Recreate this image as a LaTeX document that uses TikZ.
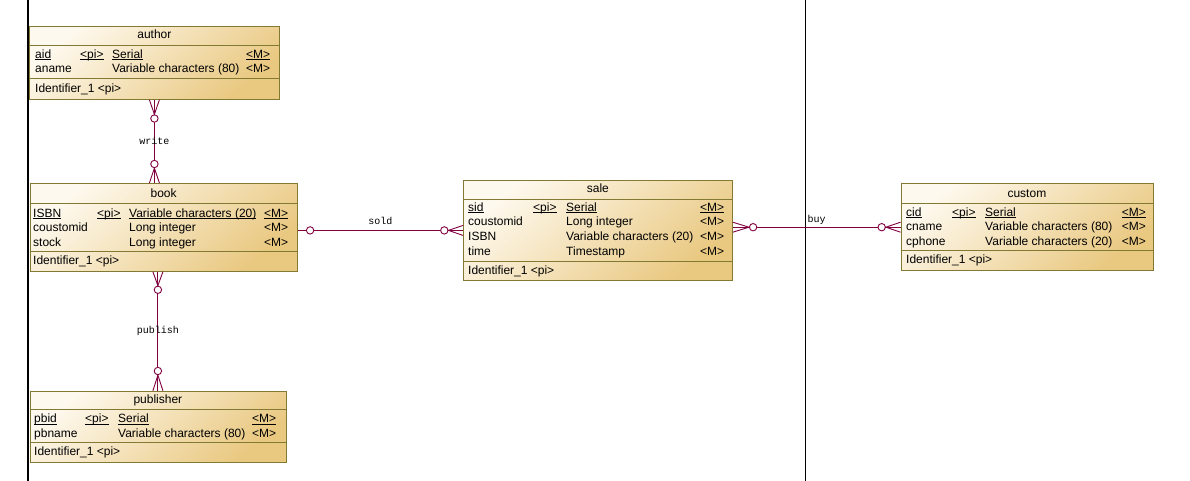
\documentclass[tikz,border=0pt]{standalone}
\usepackage{fontspec}
\setmainfont{Liberation Sans}
\newfontfamily\relfont{Liberation Mono}
\usetikzlibrary{calc,shapes}

\definecolor{entlight}{RGB}{254,249,238}
\definecolor{entdark}{RGB}{233,200,128}
\definecolor{entline}{RGB}{130,122,50}
\definecolor{relline}{RGB}{128,0,64}

% key underline at a fixed depth
\newcommand{\keyul}[1]{\setbox0\hbox{#1}\rlap{\rule[-1.6pt]{\wd0}{0.8pt}}#1}

\begin{document}
\begin{tikzpicture}
[x=1pt,y=-1pt]
\tikzset{
	entity/.style = {rectangle, draw=entline, line width=0.8, top color=entlight, bottom color=entdark, shading angle=40, anchor=north west, inner sep=0},
	enttitle/.style = {anchor=base, inner sep=0, font=\fontsize{12}{14.6}\selectfont},
	attr/.style = {anchor=north west, yshift=10.22pt, inner sep=0, align=left, font=\fontsize{12}{14.6}\selectfont},
	sep/.style = {draw=entline, line width=0.8},
	rel/.style = {draw=relline, line width=0.9},
	card/.style = {circle, draw=relline, line width=0.9, fill=white, inner sep=0, minimum size=7.4},
	rname/.style = {font=\relfont\fontsize{10}{12}\selectfont, inner sep=0}
}
\useasboundingbox (0,0) rectangle (1190,481);

\draw[line width=1.2] (28,0) -- (28,481);
\draw[line width=0.9] (805,0) -- (805,481);

% author
\node[entity, minimum width=250, minimum height=73] (author) at (29,26) {};
\draw[sep] ($(author.north west)+(0,19.5)$) -- ($(author.north east)+(0,19.5)$);
\draw[sep] ($(author.north west)+(0,52)$) -- ($(author.north east)+(0,52)$);
\node[enttitle] (author-t) at ($(author.north)+(0,13)$) {author};
\node[attr] (author-n) at (35,58) {\strut\keyul{aid}\\aname};
\node[attr] (author-k) at (80,58) {\strut\keyul{<pi>}};
\node[attr] (author-d) at (112,58) {\strut\keyul{Serial}\\Variable characters (80)};
\node[attr] (author-m) at (246,58) {\strut\keyul{<M>}\\<M>};
\node[attr] (author-i) at (35,92) {\strut Identifier\_1 <pi>};

% book
\node[entity, minimum width=267.5, minimum height=88] (book) at (29.5,183) {};
\draw[sep] ($(book.north west)+(0,20)$) -- ($(book.north east)+(0,20)$);
\draw[sep] ($(book.north west)+(0,68)$) -- ($(book.north east)+(0,68)$);
\node[enttitle] (book-t) at ($(book.north)+(0,14.5)$) {book};
\node[attr] (book-n) at (33,217) {\strut\keyul{ISBN}\\coustomid\\stock};
\node[attr] (book-k) at (97,217) {\strut\keyul{<pi>}};
\node[attr] (book-d) at (129,217) {\strut\keyul{Variable characters (20)}\\Long integer\\Long integer};
\node[attr] (book-m) at (264,217) {\strut\keyul{<M>}\\<M>\\<M>};
\node[attr] (book-i) at (33,264) {\strut Identifier\_1 <pi>};

% publisher
\node[entity, minimum width=256, minimum height=71] (publisher) at (29.5,390.7) {};
\draw[sep] ($(publisher.north west)+(0,18.3)$) -- ($(publisher.north east)+(0,18.3)$);
\draw[sep] ($(publisher.north west)+(0,52)$) -- ($(publisher.north east)+(0,52)$);
\node[enttitle] (publisher-t) at ($(publisher.north)+(0,12.5)$) {publisher};
\node[attr] (publisher-n) at (34,422.7) {\strut\keyul{pbid}\\pbname};
\node[attr] (publisher-k) at (85,422.7) {\strut\keyul{<pi>}};
\node[attr] (publisher-d) at (118,422.7) {\strut\keyul{Serial}\\Variable characters (80)};
\node[attr] (publisher-m) at (252,422.7) {\strut\keyul{<M>}\\<M>};
\node[attr] (publisher-i) at (34,455.5) {\strut Identifier\_1 <pi>};

% sale
\node[entity, minimum width=269, minimum height=100] (sale) at (463,180) {};
\draw[sep] ($(sale.north west)+(0,19)$) -- ($(sale.north east)+(0,19)$);
\draw[sep] ($(sale.north west)+(0,81)$) -- ($(sale.north east)+(0,81)$);
\node[enttitle] (sale-t) at ($(sale.north)+(0,12.5)$) {sale};
\node[attr] (sale-n) at (468,211) {\strut\keyul{sid}\\coustomid\\ISBN\\time};
\node[attr] (sale-k) at (533,211) {\strut\keyul{<pi>}};
\node[attr] (sale-d) at (566,211) {\strut\keyul{Serial}\\Long integer\\Variable characters (20)\\Timestamp};
\node[attr] (sale-m) at (700,211) {\strut\keyul{<M>}\\<M>\\<M>\\<M>};
\node[attr] (sale-i) at (468,274) {\strut Identifier\_1 <pi>};

% custom
\node[entity, minimum width=252, minimum height=87] (custom) at (900.5,183.3) {};
\draw[sep] ($(custom.north west)+(0,20)$) -- ($(custom.north east)+(0,20)$);
\draw[sep] ($(custom.north west)+(0,67.4)$) -- ($(custom.north east)+(0,67.4)$);
\node[enttitle] (custom-t) at ($(custom.north)+(0,14)$) {custom};
\node[attr] (custom-n) at (906,216) {\strut\keyul{cid}\\cname\\cphone};
\node[attr] (custom-k) at (952,216) {\strut\keyul{<pi>}};
\node[attr] (custom-d) at (985,216) {\strut\keyul{Serial}\\Variable characters (80)\\Variable characters (20)};
\node[attr] (custom-m) at (1121.7,216) {\strut\keyul{<M>}\\<M>\\<M>};
\node[attr] (custom-i) at (906,263.3) {\strut Identifier\_1 <pi>};

% write
\coordinate (write-b) at (author.south |- book.north);
\draw[rel] (author.south) -- (write-b) node[midway, rname] (write) {write};
\node[card] (write-c1) at ($(author.south)+(0,18.7)$) {};
\node[card] (write-c2) at ($(write-b)+(0,-19)$) {};
\draw[rel] ($(author.south)+(-5,0)$) -- (write-c1.north) -- ($(author.south)+(5,0)$);
\draw[rel] ($(write-b)+(-5,0)$) -- (write-c2.south) -- ($(write-b)+(5,0)$);

% publish
\coordinate (publish-a) at (book.south -| publisher.north);
\draw[rel] (publish-a) -- (publisher.north) node[midway, rname] (publish) {publish};
\node[card] (publish-c1) at ($(publish-a)+(0,18)$) {};
\node[card] (publish-c2) at ($(publisher.north)+(0,-19.7)$) {};
\draw[rel] ($(publish-a)+(-5,0)$) -- (publish-c1.north) -- ($(publish-a)+(5,0)$);
\draw[rel] ($(publisher.north)+(-5,0)$) -- (publish-c2.south) -- ($(publisher.north)+(5,0)$);

% sold
\coordinate (sold-a) at (book.east |- sale.west);
\draw[rel] (sold-a) -- (sale.west) node[midway, rname, anchor=base, yshift=6pt] (sold) {sold};
\node[card] (sold-c1) at ($(sold-a)+(12.3,0)$) {};
\node[card] (sold-c2) at ($(sale.west)+(-18.7,0)$) {};
\draw[rel] ($(sale.west)+(0,-5)$) -- (sold-c2.east) -- ($(sale.west)+(0,5)$);

% buy
\coordinate (buy-a) at (sale.east |- custom.west);
\draw[rel] (buy-a) -- (custom.west) node[midway, rname, anchor=base, yshift=4.5pt] (buy) {buy};
\node[card] (buy-c1) at ($(buy-a)+(20.3,0)$) {};
\node[card] (buy-c2) at ($(custom.west)+(-18.8,0)$) {};
\draw[rel] ($(buy-a)+(0,-5)$) -- (buy-c1.west) -- ($(buy-a)+(0,5)$);
\draw[rel] ($(custom.west)+(0,-5)$) -- (buy-c2.east) -- ($(custom.west)+(0,5)$);
\end{tikzpicture}
\end{document}
